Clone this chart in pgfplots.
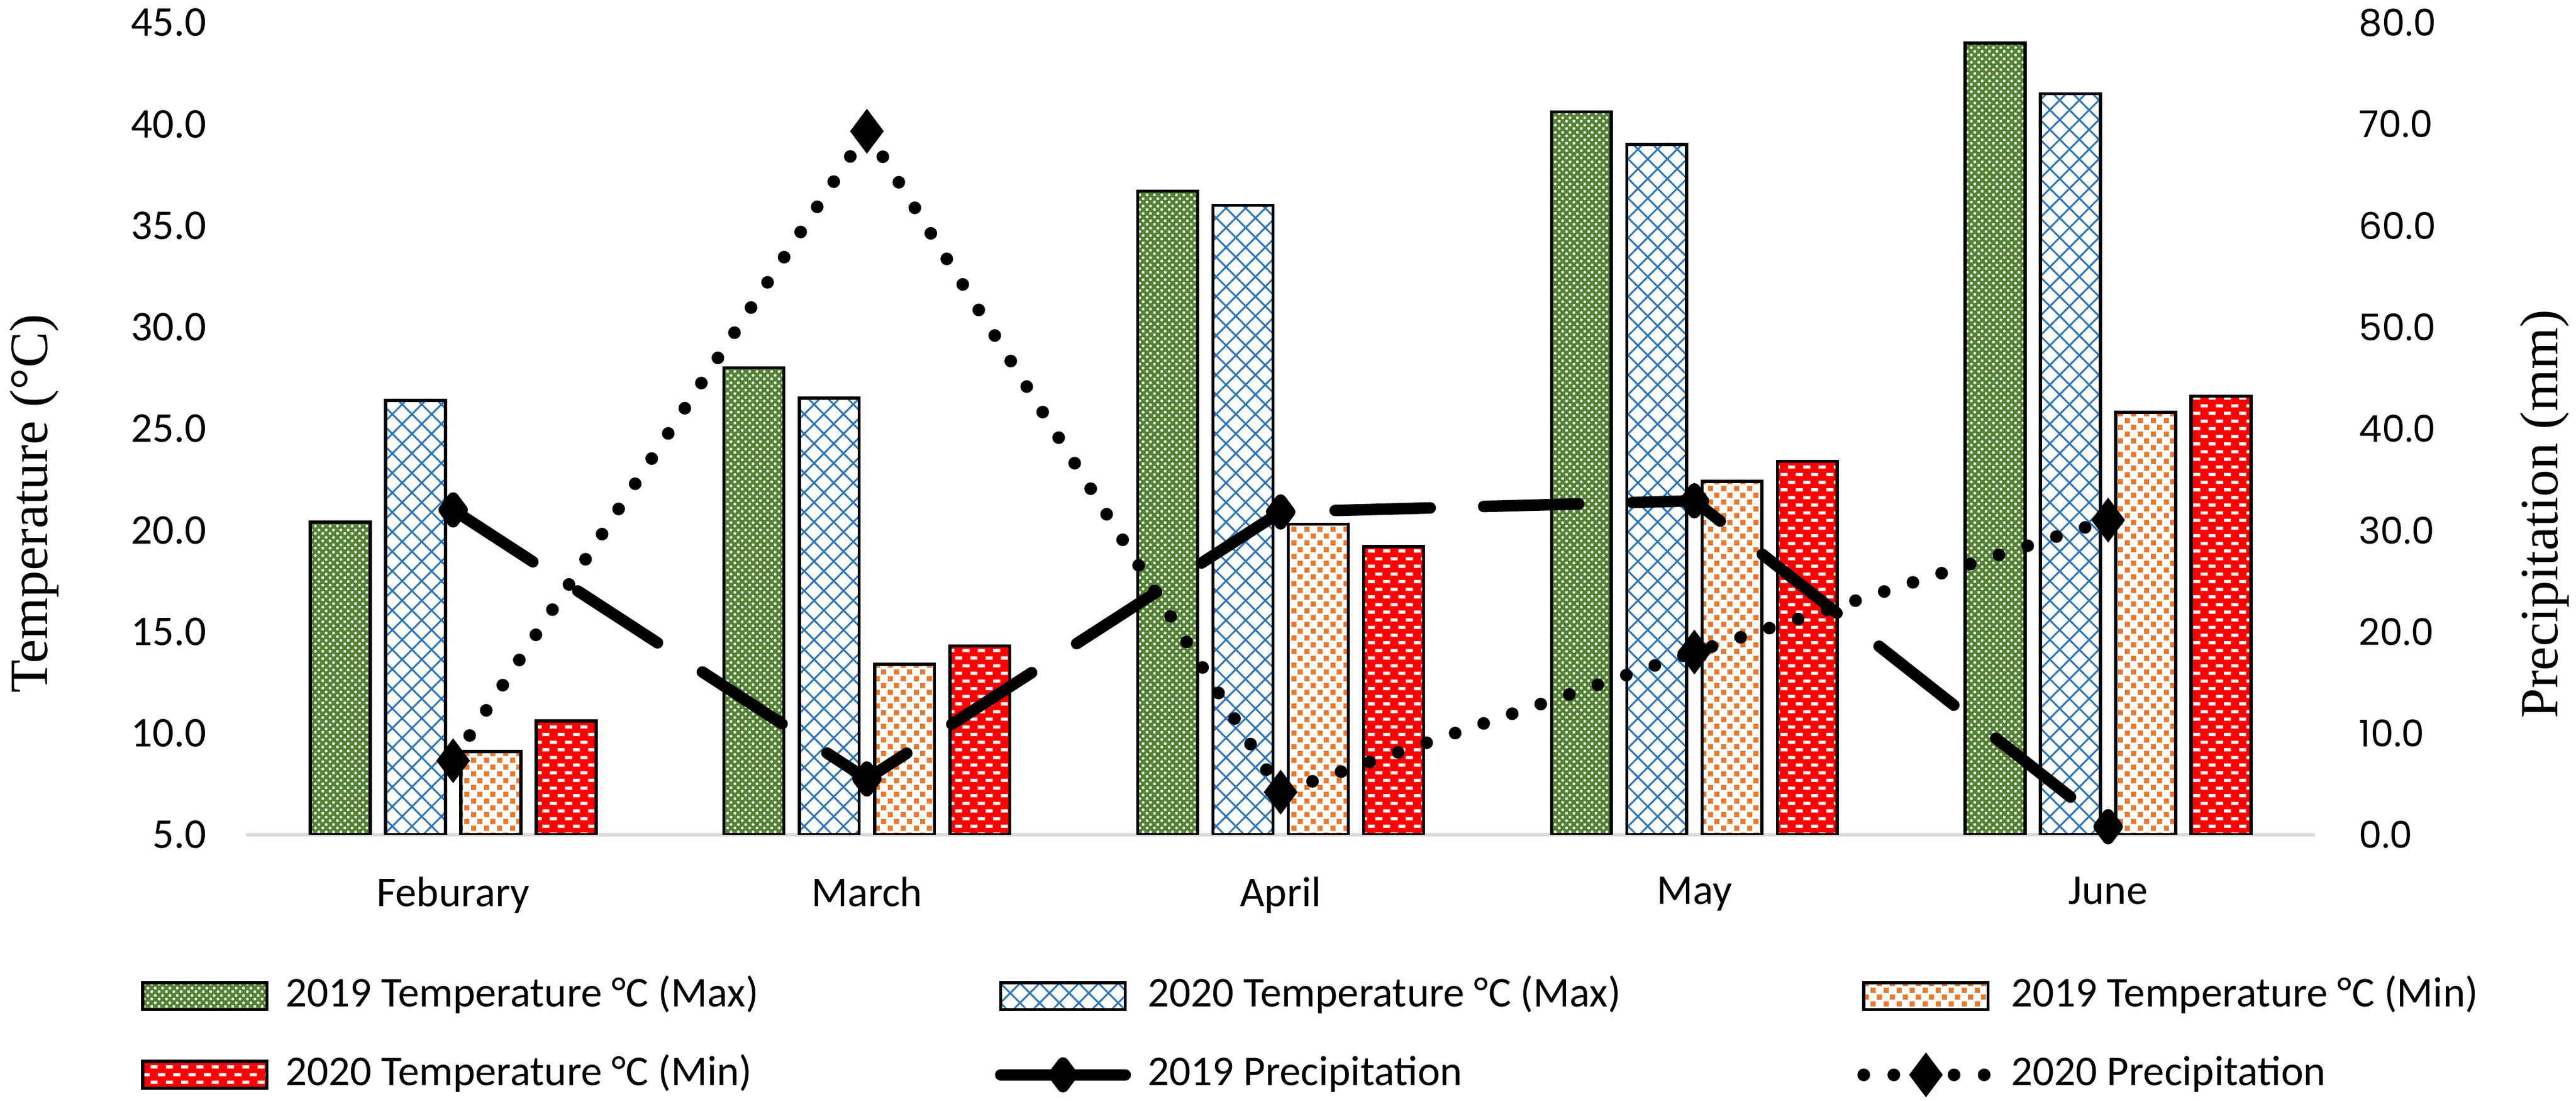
\documentclass[border=0pt]{standalone}
\usepackage{fontspec}
\setmainfont{Carlito}
\newfontfamily\poppins{Poppins}
\newfontfamily\timesf{Liberation Serif}
\usepackage{pgfplots}
\usepackage{pgfplotstable}
\pgfplotsset{compat=1.18}
\usetikzlibrary{patterns,patterns.meta}

\definecolor{grn}{HTML}{548235}
\definecolor{blu}{HTML}{2E75B6}
\definecolor{org}{HTML}{E87A30}
\definecolor{redd}{HTML}{FF0000}
\definecolor{axgray}{HTML}{D9D9D9}

% green bars: white dot lattice
\pgfdeclarepatternformonly{gdots}{\pgfqpoint{0pt}{0pt}}{\pgfqpoint{1.8pt}{1.8pt}}{\pgfqpoint{1.8pt}{1.8pt}}{%
  \pgfpathcircle{\pgfqpoint{0.45pt}{0.45pt}}{0.36pt}%
  \pgfpathcircle{\pgfqpoint{1.35pt}{1.35pt}}{0.36pt}%
  \pgfusepath{fill}}
% orange bars: small squares
\pgfdeclarepatternformonly{osq}{\pgfqpoint{0pt}{0pt}}{\pgfqpoint{3.3pt}{3.4pt}}{\pgfqpoint{3.3pt}{3.4pt}}{%
  \pgfpathrectangle{\pgfqpoint{0.15pt}{0.15pt}}{\pgfqpoint{1.3pt}{1.3pt}}%
  \pgfpathrectangle{\pgfqpoint{1.8pt}{1.85pt}}{\pgfqpoint{1.3pt}{1.3pt}}%
  \pgfusepath{fill}}
% red bars: short white dashes
\pgfdeclarepatternformonly{rdash}{\pgfqpoint{0pt}{0pt}}{\pgfqpoint{3.8pt}{3.8pt}}{\pgfqpoint{3.8pt}{3.8pt}}{%
  \pgfpathrectangle{\pgfqpoint{0.0pt}{0.5pt}}{\pgfqpoint{1.8pt}{0.8pt}}%
  \pgfpathrectangle{\pgfqpoint{1.9pt}{2.4pt}}{\pgfqpoint{1.8pt}{0.8pt}}%
  \pgfusepath{fill}}

\tikzset{
  gstyle/.style={preaction={fill=grn}, pattern=gdots, pattern color=white, draw=black, line width=0.8pt},
  bstyle/.style={preaction={fill=white}, pattern={Hatch[angle=45,distance=3.5pt,line width=0.45pt]}, pattern color=blu, draw=black, line width=0.8pt},
  ostyle/.style={preaction={fill=white}, pattern=osq, pattern color=org, draw=black, line width=0.8pt},
  rstyle/.style={preaction={fill=redd}, pattern=rdash, pattern color=white, draw=black, line width=0.8pt},
  p19style/.style={black, line width=2.9pt, dash pattern=on 24pt off 13.5pt, line cap=round, line join=round, mark=diamond*, mark size=3.0pt, mark options={solid, fill=black}},
  p20style/.style={black, line width=3.2pt, dash pattern=on 0pt off 7.6pt, line cap=round, mark=diamond*, mark size=3.0pt, mark options={solid, fill=black}},
}

\pgfplotsset{
  barleg/.style={legend image code/.code={\draw[##1] (0pt,-3.4pt) rectangle (31.4pt,3.4pt);}},
  solidleg/.style={legend image code/.code={\draw[##1, solid, mark repeat=2, mark phase=2] plot coordinates {(0pt,0pt) (15.7pt,0pt) (31.4pt,0pt)};}},
  dotleg/.style={legend image code/.code={\draw[##1, mark repeat=2, mark phase=2] plot coordinates {(0pt,0pt) (15.7pt,0pt) (31.4pt,0pt)};}},
}

\pgfplotstableread{
m g19 b20 o19 r20
0 20.4 26.4 9.1 10.6
1 28.0 26.5 13.4 14.3
2 36.7 36.0 20.3 19.2
3 40.6 39.0 22.4 23.4
4 44.0 41.5 25.8 26.6
}\temps

\pgfplotstableread{
m p19 p20
0 32.0 7.3
1 5.5 69.3
2 31.8 4.2
3 32.9 18.0
4 0.8 31.0
}\precip

\begin{document}
\begin{tikzpicture}
\path[use as bounding box] (0pt,0pt) rectangle (650pt,277.71pt);

\begin{axis}[
  at={(62.14pt,67.14pt)}, anchor=south west,
  width=522pt, height=204.86pt, scale only axis,
  xmin=-0.5, xmax=4.5, ymin=5, ymax=45,
  xtick={0,1,2,3,4}, xticklabels={Feburary,March,April,May,June},
  ytick={5,10,...,45},
  axis x line*=bottom, axis y line*=left,
  x axis line style={draw=axgray, line width=0.9pt, -},
  y axis line style={draw=none, -},
  major tick length=0pt,
  tick label style={font=\fontsize{10.7}{12.8}\selectfont},
  yticklabel style={/pgf/number format/fixed, /pgf/number format/fixed zerofill, /pgf/number format/precision=1, /pgf/number format/assume math mode=true, anchor=east, inner sep=0pt, xshift=-9.84pt},
  xticklabel style={anchor=north, inner sep=0pt, yshift=-10.5pt},
]
\addplot[ybar, bar width=0.145, bar shift=-0.273, gstyle] table[x=m,y=g19]{\temps};
\addplot[ybar, bar width=0.145, bar shift=-0.091, bstyle] table[x=m,y=b20]{\temps};
\addplot[ybar, bar width=0.145, bar shift=0.091, ostyle] table[x=m,y=o19]{\temps};
\addplot[ybar, bar width=0.145, bar shift=0.273, rstyle] table[x=m,y=r20]{\temps};
\end{axis}

\begin{axis}[
  at={(62.14pt,67.14pt)}, anchor=south west,
  width=522pt, height=204.86pt, scale only axis,
  xmin=-0.5, xmax=4.5, ymin=0, ymax=80,
  axis x line=none, axis y line*=right,
  y axis line style={draw=none, -},
  xtick=\empty,
  ytick={0,10,...,80},
  major tick length=0pt,
  clip=false,
  yticklabel style={font=\poppins\fontsize{9.3}{11}\selectfont, /pgf/number format/fixed, /pgf/number format/fixed zerofill, /pgf/number format/precision=1, /pgf/number format/assume math mode=true, anchor=west, inner sep=0pt, xshift=10.86pt},
  legend columns=3,
  legend cell align=left,
  legend style={at={(-0.0509,-0.1755)}, anchor=north west, draw=none, fill=none,
    font=\fontsize{10.7}{12.8}\selectfont,
    inner sep=0pt, outer sep=0pt,
    row sep=10.5pt,
    /tikz/every odd column/.style={column sep=4.3pt},
    nodes={inner sep=0pt, text height=7.4pt, text depth=2pt}},
]
\addlegendimage{gstyle, barleg}
\addlegendentry{\makebox[179pt][l]{2019 Temperature °C (Max)}}
\addlegendimage{bstyle, barleg}
\addlegendentry{\makebox[179pt][l]{2020 Temperature °C (Max)}}
\addlegendimage{ostyle, barleg}
\addlegendentry{\makebox[179pt][l]{2019 Temperature °C (Min)}}
\addlegendimage{rstyle, barleg}
\addlegendentry{\makebox[179pt][l]{2020 Temperature °C (Min)}}
\addplot[p19style, solidleg] table[x=m,y=p19]{\precip};
\addlegendentry{\makebox[179pt][l]{2019 Precipitation}}
\addplot[p20style, dotleg] table[x=m,y=p20]{\precip};
\addlegendentry{\makebox[179pt][l]{2020 Precipitation}}
\end{axis}

\node[rotate=90, font=\timesf\fontsize{13.6}{16}\selectfont] at (8.7pt,150.7pt) {Temperature (°C)};
\node[rotate=90, font=\timesf\fontsize{13.6}{16}\selectfont] at (642.1pt,148pt) {Precipitation (mm)};
\end{tikzpicture}
\end{document}
